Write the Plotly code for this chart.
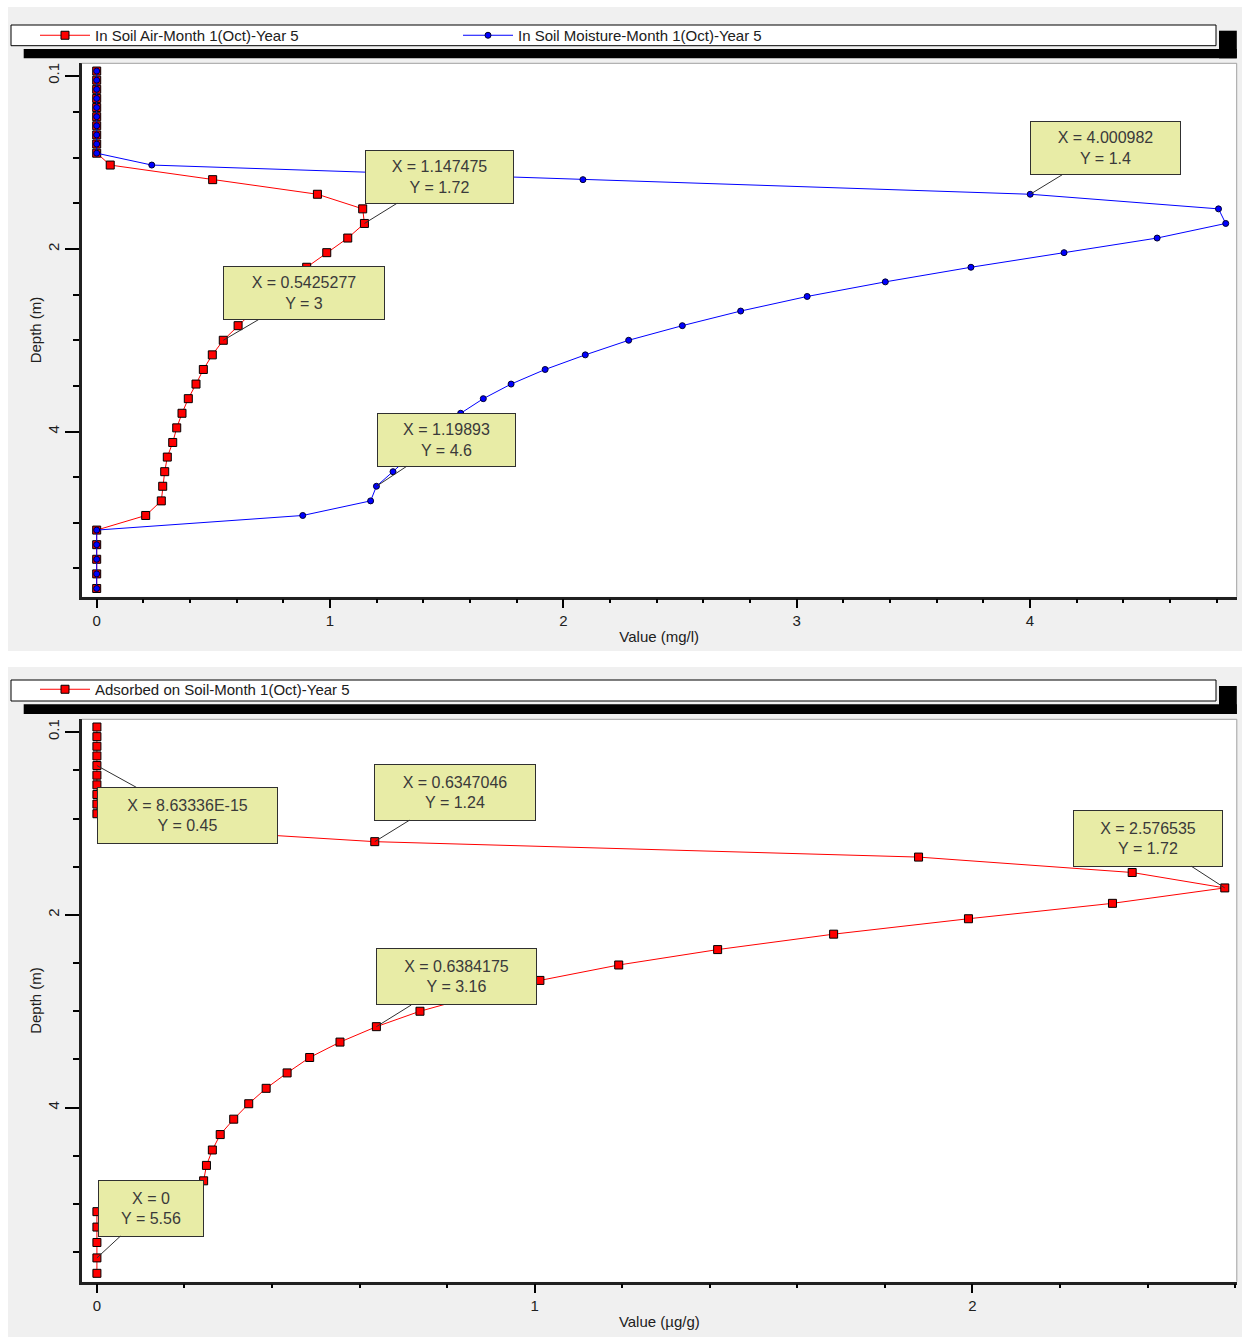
import plotly.graph_objects as go

# ---------------- data ----------------
depth = [0.05, 0.15, 0.25, 0.35, 0.45, 0.55, 0.65, 0.75, 0.85, 0.95,
         1.08, 1.24, 1.40, 1.56, 1.72, 1.88, 2.04, 2.20, 2.36, 2.52,
         2.68, 2.84, 3.00, 3.16, 3.32, 3.48, 3.64, 3.80, 3.96, 4.12,
         4.28, 4.44, 4.60, 4.76, 4.92, 5.08, 5.24, 5.40, 5.56, 5.72]

soil_air = [0, 0, 0, 0, 0, 0, 0, 0, 0, 0,
            0.058, 0.497, 0.946, 1.140, 1.147475, 1.076, 0.986, 0.90, 0.818, 0.742,
            0.672, 0.606, 0.5425277, 0.4955, 0.457, 0.4256, 0.3926, 0.3656, 0.343, 0.3258,
            0.3026, 0.2915, 0.2829, 0.2769, 0.21, 0, 0, 0, 0, 0]

soil_moisture = [0, 0, 0, 0, 0, 0, 0, 0, 0, 0,
                 0.236, 2.084, 4.000982, 4.808, 4.839, 4.545, 4.146, 3.747, 3.38, 3.045,
                 2.76, 2.51, 2.28, 2.094, 1.922, 1.776, 1.657, 1.56, 1.48, 1.41,
                 1.34, 1.27, 1.19893, 1.174, 0.883, 0, 0, 0, 0, 0]

adsorbed = [0, 0, 0, 0, 8.63336e-15, 0, 0, 0, 0, 0,
            0.065, 0.6347046, 1.877, 2.365, 2.576535, 2.320, 1.991, 1.683, 1.418, 1.192,
            1.012, 0.865, 0.738, 0.6384175, 0.5553, 0.486, 0.4345, 0.3866, 0.3468, 0.3125,
            0.2817, 0.2637, 0.2502, 0.2438, 0.19, 0, 0, 0, 0, 0]

name_air = "In Soil Air-Month 1(Oct)-Year 5"
name_moist = "In Soil Moisture-Month 1(Oct)-Year 5"
name_ads = "Adsorbed on Soil-Month 1(Oct)-Year 5"

# callouts: (series, index into depth)
callouts_top = [("air", 14), ("moist", 12), ("air", 22), ("moist", 32)]
callouts_bot = [("ads", 4), ("ads", 11), ("ads", 14), ("ads", 23), ("ads", 38)]

# ---------------- layout helpers ----------------
W, H = 1242, 1342
def fx(p):
    return p / W
def fy(p):
    return 1 - p / H

FONT = "Liberation Sans, Arial, sans-serif"
TXT = "#202020"

def fmt(v):
    if v == 0:
        return "0"
    if abs(v) < 1e-4:
        return f"{v:.5E}"
    if v == int(v):
        return str(int(v))
    return str(v)

series = {"air": soil_air, "moist": soil_moisture, "ads": adsorbed}

fig = go.Figure()
fig.add_trace(go.Scatter(
    x=soil_air, y=depth, mode="lines+markers", name=name_air,
    line=dict(color="#ff0000", width=1),
    marker=dict(symbol="square", size=8, color="#ff0000", line=dict(color="#000000", width=1)),
    xaxis="x", yaxis="y", legend="legend"))
fig.add_trace(go.Scatter(
    x=soil_moisture, y=depth, mode="lines+markers", name=name_moist,
    line=dict(color="#0000ff", width=1),
    marker=dict(symbol="circle", size=6, color="#0000ff", line=dict(color="#000030", width=1)),
    xaxis="x", yaxis="y", legend="legend"))
fig.add_trace(go.Scatter(
    x=adsorbed, y=depth, mode="lines+markers", name=name_ads,
    line=dict(color="#ff0000", width=1),
    marker=dict(symbol="square", size=8, color="#ff0000", line=dict(color="#000000", width=1)),
    xaxis="x2", yaxis="y2", legend="legend2"))

# box geometry (center offset from point, size) for each callout
top_boxes = [(75.5, -46.7, 149, 54), (75.5, -46, 151, 54), (80.7, -47.3, 162, 54), (70.5, -46.5, 139, 54)]
bot_boxes = [(90.5, 50, 181, 57), (80, -49.4, 162, 57), (-76.5, -49.6, 150, 57), (80, -49.7, 161, 57), (53.7, -49.7, 106, 57)]

annotations = []
for refs, calls, boxes in ((("x", "y"), callouts_top, top_boxes), (("x2", "y2"), callouts_bot, bot_boxes)):
    for (s, i), (ax, ay, bw, bh) in zip(calls, boxes):
        xv = series[s][i]
        annotations.append(dict(
            x=xv, y=depth[i], xref=refs[0], yref=refs[1],
            text=f"X = {fmt(xv)}<br>Y = {fmt(depth[i])}",
            showarrow=True, arrowhead=0, arrowwidth=1, arrowcolor="#303030",
            ax=ax, ay=ay, width=bw - 10, height=bh - 10, align="center",
            bgcolor="#e8eca6", bordercolor="#303030", borderwidth=1, borderpad=4,
            font=dict(family=FONT, size=16, color="#3a3a3a")))

def rect(x0, y0, x1, y1, fill, line_color=None, lw=0, layer="below"):
    return dict(type="rect", xref="paper", yref="paper",
                x0=fx(x0), x1=fx(x1), y0=fy(y1), y1=fy(y0),
                fillcolor=fill, line=dict(color=line_color or fill, width=lw), layer=layer)

def line(x0, y0, x1, y1, color, lw=1):
    return dict(type="line", xref="paper", yref="paper",
                x0=fx(x0), x1=fx(x1), y0=fy(y0), y1=fy(y1),
                line=dict(color=color, width=lw), layer="above")

shapes = [
    rect(8, 7, 1242, 651, "#f0f0f0"),
    rect(8, 667, 1242, 1337, "#f0f0f0"),
    # plot areas
    rect(81.7, 63.3, 1236.7, 596.7, "#ffffff"),
    rect(81.9, 719.3, 1236.8, 1281.7, "#ffffff"),
    # top legend frame + shadow
    rect(23.7, 49, 1236.8, 58.3, "#000000"),
    rect(1219, 30.7, 1236.8, 58.3, "#000000"),
    rect(11, 25, 1216, 45.7, "#ffffff", "#000000", 1),
    # bottom legend frame + shadow
    rect(23.7, 704.3, 1236.8, 714, "#000000"),
    rect(1219, 686, 1236.8, 714, "#000000"),
    rect(11, 680, 1216, 701, "#ffffff", "#000000", 1),
    # plot frames (top and right edges)
    line(81.7, 63.3, 1236.7, 63.3, "#a0a0a0"),
    line(1236.7, 63.3, 1236.7, 596.7, "#a0a0a0"),
    line(81.9, 719.3, 1236.8, 719.3, "#a0a0a0"),
    line(1236.8, 719.3, 1236.8, 1281.7, "#a0a0a0"),
]

xcommon = dict(ticks="outside", ticklen=9, tickwidth=1.5, tickcolor="#000000",
               showline=True, linecolor="#202020", linewidth=2.5,
               showgrid=False, zeroline=False, automargin=False,
               tickfont=dict(family=FONT, size=15, color=TXT),
               tick0=0, dtick=1,
               minor=dict(ticks="outside", ticklen=4, tickwidth=1.5, tickcolor="#000000",
                          tick0=0, dtick=0.2, showgrid=False))
ycommon = dict(ticks="outside", ticklen=14, tickwidth=1.5, tickcolor="#000000",
               showline=True, linecolor="#202020", linewidth=2.5,
               showgrid=False, zeroline=False, automargin=False,
               tickfont=dict(family=FONT, size=15, color=TXT),
               tickvals=[0.1, 2, 4], ticktext=["0.1", "2", "4"], tickangle=-90,
               minor=dict(ticks="outside", ticklen=6, tickwidth=1.5, tickcolor="#000000",
                          tickvals=[0.5, 1, 1.5, 2.5, 3, 3.5, 4.5, 5, 5.5], showgrid=False))

legend_common = dict(xanchor="left", yanchor="top", orientation="h",
                     bgcolor="rgba(0,0,0,0)", borderwidth=0,
                     font=dict(family=FONT, size=15, color=TXT),
                     itemwidth=50, itemclick=False)

fig.update_layout(
    width=W, height=H, autosize=False,
    margin=dict(l=0, r=0, t=0, b=0),
    paper_bgcolor="#ffffff", plot_bgcolor="#ffffff",
    font=dict(family=FONT, size=15, color=TXT),
    showlegend=True,
    xaxis=dict(domain=[fx(81.7), fx(1236.7)], anchor="y", range=[-0.0643, 4.886],
               title=dict(text="Value (mg/l)", font=dict(family=FONT, size=15, color=TXT), standoff=4),
               **xcommon),
    yaxis=dict(domain=[fy(596.7), fy(63.3)], anchor="x", range=[5.81, -0.035],
               title=dict(text="Depth (m)", font=dict(family=FONT, size=15, color=TXT), standoff=0),
               **ycommon),
    xaxis2=dict(domain=[fx(81.9), fx(1236.8)], anchor="y2", range=[-0.0343, 2.604],
                title=dict(text="Value (µg/g)", font=dict(family=FONT, size=15, color=TXT), standoff=4),
                **xcommon),
    yaxis2=dict(domain=[fy(1281.7), fy(719.3)], anchor="x2", range=[5.807, -0.030],
                title=dict(text="Depth (m)", font=dict(family=FONT, size=15, color=TXT), standoff=0),
                **ycommon),
    legend=dict(x=fx(35), y=fy(19), entrywidth=358, entrywidthmode="pixels", **legend_common),
    legend2=dict(x=fx(35), y=fy(673), **legend_common),
    shapes=shapes,
    annotations=annotations,
)

fig.write_html("out.html", config={"displayModeBar": False},
               post_script="document.body.style.margin='0';document.body.style.overflow='hidden';")
